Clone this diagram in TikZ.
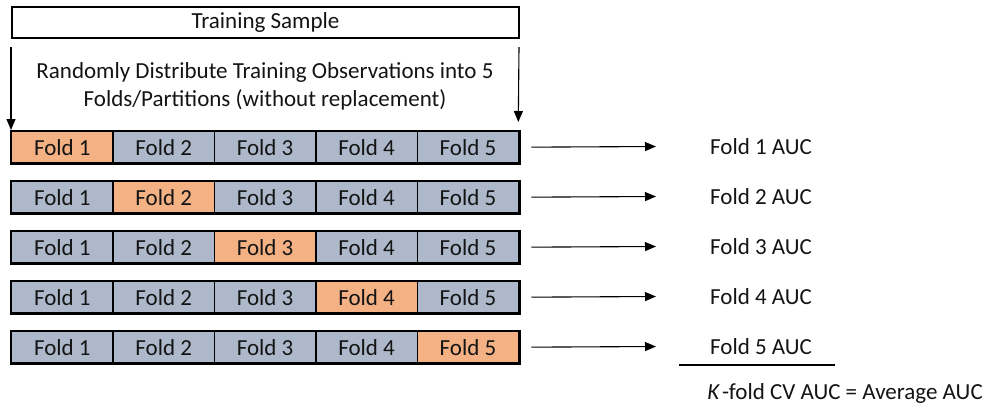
\documentclass[tikz,border=0pt]{standalone}
\usepackage{fontspec}
\setmainfont{Carlito}
\usetikzlibrary{arrows.meta}
\definecolor{foldblue}{HTML}{ADB9CA}
\definecolor{foldorange}{HTML}{F4B183}
\definecolor{inktext}{HTML}{141414}
\begin{document}
\begin{tikzpicture}[x=1pt,y=-1pt,
  every node/.style={font=\fontsize{23}{28}\selectfont, text=inktext},
  titlebox/.style={draw=black, line width=2pt, fill=white, inner sep=0pt,
    minimum width=507pt, minimum height=31pt, anchor=north west},
  cell/.style={draw=black, line width=1.3pt, fill=foldblue, inner sep=0pt,
    minimum width=101.4pt, minimum height=31pt, anchor=north west},
  testcell/.style={cell, fill=foldorange},
  rowframe/.style={draw=black, line width=2.6pt},
  flow/.style={draw=black, line width=1.1pt, -{Triangle[length=11pt,width=9pt]}},
  auclabel/.style={anchor=west, inner sep=0pt}
]
\useasboundingbox (0,0) rectangle (993,408);

% training sample and split note
\node[titlebox] (train) at (11,6) {Training Sample};
\node[align=center, inner sep=0pt] (note) at (265,86)
  {Randomly Distribute Training Observations into 5\\Folds/Partitions (without replacement)};

% five rows of folds, the held-out fold in orange
\foreach \i in {1,...,5}{
  \foreach \j in {1,...,5}{
    \ifnum\i=\j
      \node[testcell] (r\i c\j) at ({11+101.4*(\j-1)}, {131+50*(\i-1)}) {Fold \j};
    \else
      \node[cell] (r\i c\j) at ({11+101.4*(\j-1)}, {131+50*(\i-1)}) {Fold \j};
    \fi
  }
  \draw[rowframe] (r\i c1.north west) rectangle (r\i c5.south east);
  \node[auclabel] (auc\i) at (710, {146.5+50*(\i-1)}) {Fold \i{} AUC};
  \coordinate (s\i) at ([xshift=12pt]r\i c5.east);
  \coordinate (e\i) at ([xshift=-54pt]auc\i.west);
  \draw[flow] (s\i) -- (e\i);
}

% arrows from the sample down to the folds
\coordinate (lstart) at ([yshift=-8pt]train.south west);
\coordinate (rstart) at ([xshift=-1pt,yshift=-8pt]train.south east);
\coordinate (rend) at ([xshift=-1pt,yshift=9pt]r1c5.north east);
\draw[flow] (lstart) -- ([yshift=1pt]r1c1.north west);
\draw[flow] (rstart) -- (rend);

% summing line and average
\coordinate (sumL) at (679,365);
\coordinate (sumR) at (835,365);
\draw[line width=1.1pt] (sumL) -- (sumR);
\node[anchor=center, inner sep=0pt] (avg) at (845,393) {\textit{K}\kern2pt-fold CV AUC = Average AUC};
\end{tikzpicture}
\end{document}
